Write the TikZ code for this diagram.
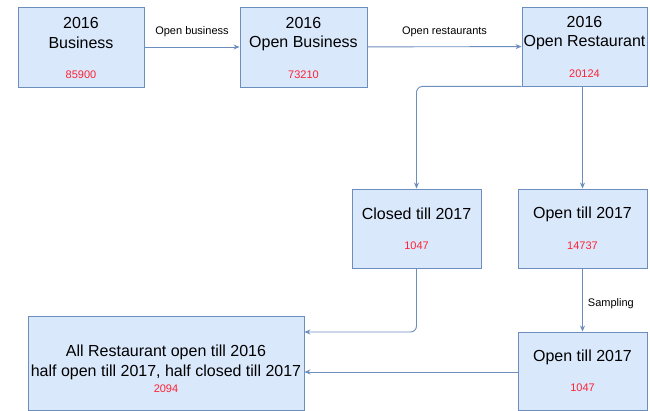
\documentclass[tikz,border=0pt]{standalone}
\usepackage{fontspec}
\setmainfont{Liberation Sans}
\usetikzlibrary{arrows.meta}
\definecolor{boxfill}{HTML}{DAE8FC}
\definecolor{boxline}{HTML}{6C8EBF}
\definecolor{numred}{HTML}{FF2233}
\begin{document}
\begin{tikzpicture}[x=1pt,y=-1pt,
  box/.style={draw=boxline,fill=boxfill,line width=0.9pt,minimum width=#1,inner sep=0pt},
  box/.default=127pt,
  big/.style={font=\fontsize{16}{18}\selectfont,text=black,inner sep=0pt},
  num/.style={font=\fontsize{11}{13}\selectfont,text=numred,inner sep=0pt},
  lbl/.style={font=\fontsize{11}{13}\selectfont,text=black,inner sep=0pt},
  conn/.style={draw=boxline,line width=0.9pt,-{Stealth[length=6pt,width=5pt]}}]
\useasboundingbox (0,0) rectangle (650,411);
% top row
\node[box=126pt,minimum height=80pt] (b1) at (81,47) {};
\node[big] (b1a) at (81,23) {2016};
\node[big] (b1b) at (81,43) {Business};
\node[num] (b1n) at (81,75) {85900};
\node[box=127pt,minimum height=80pt] (b2) at (303.5,47) {};
\node[big] (b2a) at (303.5,23) {2016};
\node[big] (b2b) at (303.5,43) {Open Business};
\node[num] (b2n) at (303.5,75) {73210};
\node[box=125pt,minimum height=79pt] (b3) at (584.5,46.5) {};
\node[big] (b3a) at (584.5,22) {2016};
\node[big] (b3b) at (584.5,43) {Open Restaurant};
\node[num] (b3n) at (584.5,74) {20124};
% middle row
\node[box=129pt,minimum height=79pt] (cl) at (416.5,228.5) {};
\node[big] (clt) at (416.5,214) {Closed till 2017};
\node[num] (cln) at (416.5,246) {1047};
\node[box=129pt,minimum height=79pt] (op) at (582.5,228.5) {};
\node[big] (opt) at (582.5,214) {Open till 2017};
\node[num] (opn) at (582.5,246) {14737};
% bottom row
\node[box=129pt,minimum height=78pt] (os) at (582.5,371) {};
\node[big] (ost) at (582.5,357) {Open till 2017};
\node[num] (osn) at (582.5,388) {1047};
\node[box=276pt,minimum height=94pt] (all) at (166,363) {};
\node[big] (alla) at (166,352) {All Restaurant open till 2016};
\node[big] (allb) at (166,372) {half open till 2017, half closed till 2017};
\node[num] (alln) at (166,389) {2094};
% connectors
\draw[conn] (b1) -- (b2) node[lbl,midway,yshift=15pt] (l1) {Open business};
\draw[conn] (b2) -- (b3) node[lbl,midway,yshift=15pt] (l2) {Open restaurants};
\draw[conn] (op.north |- b3.south) -- (op.north);
\draw[conn,rounded corners=6pt] (b3.south west) -| (cl.north);
\draw[conn,rounded corners=6pt] (cl.south) |- (all.east |- 0,332);
\draw[conn] (op.south) -- (os.north) node[lbl,midway,right=5pt,yshift=-4pt] (l3) {Sampling};
\draw[conn] (os.west |- 0,372) -- (all.east |- 0,372);
\end{tikzpicture}
\end{document}
